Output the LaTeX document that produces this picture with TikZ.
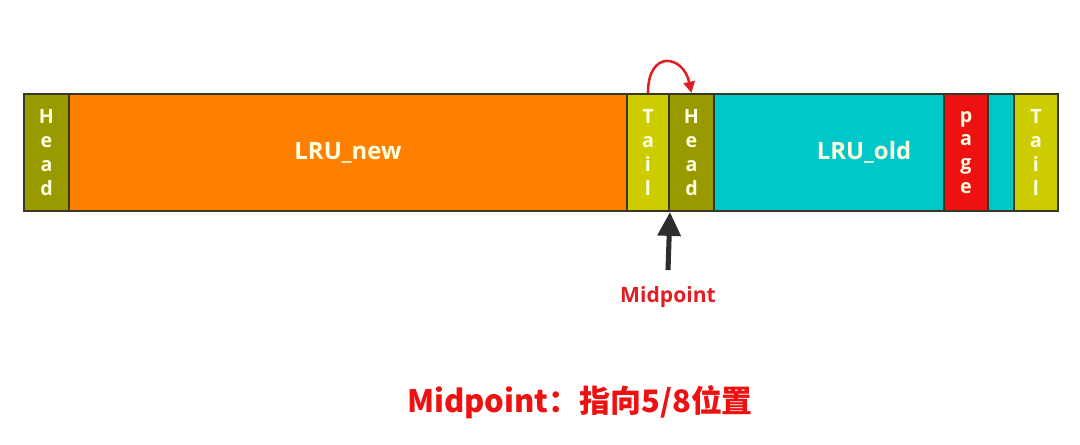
\documentclass[tikz,border=0pt]{standalone}
\usepackage{fontspec}
\setmainfont{Open Sans}
\newfontfamily\cjk{Noto Sans CJK SC}
\usetikzlibrary{arrows.meta, positioning}
\definecolor{HeadOlive}{RGB}{153,153,0}
\definecolor{NewOrange}{RGB}{255,128,0}
\definecolor{TailLime}{RGB}{204,204,0}
\definecolor{OldCyan}{RGB}{0,200,200}
\definecolor{PageRed}{RGB}{238,17,17}
\definecolor{BarEdge}{RGB}{55,55,35}
\definecolor{SegText}{RGB}{255,255,225}
\definecolor{MidRed}{RGB}{225,30,35}
\definecolor{ArrowGray}{RGB}{45,45,45}

\begin{document}
\begin{tikzpicture}[x=0.025cm, y=0.025cm,
	seg/.style={rectangle, draw=BarEdge, line width=1.4pt, anchor=north west,
		minimum height=2.925cm, inner sep=0pt, text=SegText, align=center,
		font=\bfseries\fontsize{14}{17}\selectfont},
	biglabel/.style={text=SegText, font=\bfseries\fontsize{17}{20}\selectfont},
	midlabel/.style={text=MidRed, font=\bfseries\fontsize{15}{18}\selectfont}]
	\useasboundingbox (0,0) rectangle (1080,-445);
	% the list, left to right
	\foreach \n/\xa/\xb/\col/\txt in {headNew/23/68/HeadOlive/H\\e\\a\\d,
		lruNew/68/626/NewOrange/{},
		tailNew/626/668/TailLime/T\\a\\i\\l,
		headOld/668/713/HeadOlive/H\\e\\a\\d,
		lruOld/713/943/OldCyan/{},
		page/943/987/PageRed/p\\a\\g\\e,
		oldGap/987/1013/OldCyan/{},
		tailOld/1013/1057/TailLime/T\\a\\i\\l}{
		\pgfmathsetmacro\w{(\xb-\xa)*0.025}
		\node[seg, fill=\col, minimum width=\w cm] (\n) at (\xa,-93) {\txt};
	}
	\node[biglabel] (newLabel) at (lruNew.center) {LRU\_new};
	\node[biglabel] (oldLabel) at (864,-152) {LRU\_old};
	% midpoint
	\draw[MidRed, line width=1.8pt, -{Triangle[length=8pt, width=8pt]}]
		(tailNew.north) .. controls +(0,44) and +(-8,38) .. (headOld.north);
	\node[midlabel] (midLabel) at (668,-297) {Midpoint};
	\coordinate (midFoot) at (668,-270);
	\draw[ArrowGray, line width=3.6pt, -{Triangle[length=17pt, width=16pt]}]
		(midFoot) -- (tailNew.south east);
	\node[text=PageRed, font=\cjk\bfseries\fontsize{22}{24}\selectfont]
		(note) at (580,-402) {Midpoint：指向5/8位置};
\end{tikzpicture}
\end{document}
